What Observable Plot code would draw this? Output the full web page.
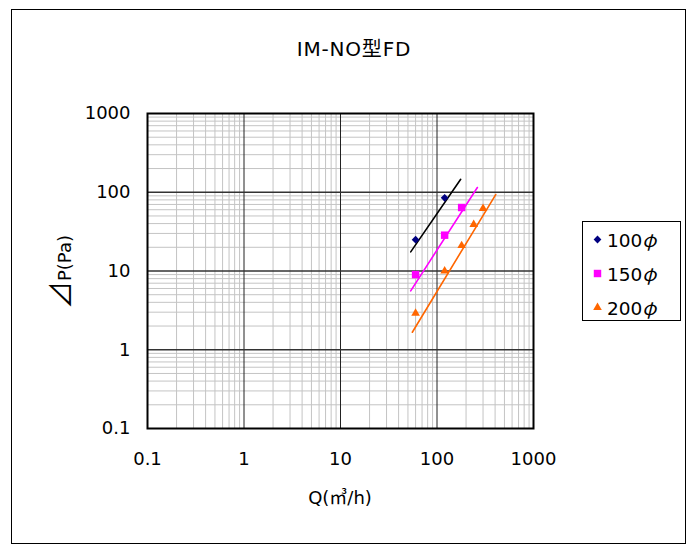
<!DOCTYPE html>
<html>
<head>
<meta charset="utf-8">
<script src="https://cdn.jsdelivr.net/npm/d3@7"></script>
<script src="https://cdn.jsdelivr.net/npm/@observablehq/plot@0.6"></script>
<style>
  html, body { margin: 0; padding: 0; background: #fff; }
  #wrap { position: relative; width: 698px; height: 544px; font-family: "DejaVu Sans", "Noto Sans CJK JP", sans-serif; color: #000; }
  #frame { position: absolute; left: 11px; top: 9px; width: 675px; height: 535px; border: 1px solid #000; box-sizing: border-box; pointer-events: none; }
  .txt { position: absolute; white-space: nowrap; }
  #title { left: 0; width: 708px; top: 33px; text-align: center; font-size: 20px; letter-spacing: 0.8px; }
  #xlabel { left: 0; width: 680px; top: 483px; text-align: center; font-size: 18px; }
  #ylabel { left: 61px; top: 272px; font-size: 18px; line-height: 22px; transform: translate(-50%, -50%) rotate(-90deg); }
  #legend { position: absolute; left: 582px; top: 221px; width: 99px; height: 100px; border: 1px solid #000; box-sizing: border-box; background: #fff; }
  .row { position: absolute; left: 0; height: 24px; display: flex; align-items: center; font-size: 18.5px; }
  .row svg { margin-left: 9px; margin-right: 4px; }
  .cjk { font-family: "Noto Sans CJK JP", sans-serif; }
  .big { font-size: 1.55em; line-height: 1; }
  .phi { font-family: "Noto Sans CJK JP", sans-serif; font-style: italic; }
</style>
</head>
<body>
<div id="wrap">
  <div id="chart"></div>
  <div id="frame"></div>
  <div class="txt" id="title"></div>
  <div class="txt" id="xlabel"></div>
  <div class="txt" id="ylabel"></div>
  <div id="legend"></div>
</div>
<script>
// ---- data ----
const titleText = "IM-NO型FD";
const xLabel = "Q(㎥/h)";
const yLabel = "⊿P(Pa)";

const seriesNames = ["100φ", "150φ", "200φ"];
const seriesColors = ["#000080", "#ff00ff", "#ff6600"];
const seriesSymbols = ["diamond2", "square", "triangle"];

const q100 = [60, 120];
const p100 = [25, 85];
const q150 = [60, 120, 180];
const p150 = [9, 28.5, 64];
const q200 = [60, 120, 180, 240, 300];
const p200 = [2.9, 10, 21, 39, 62];

// trend line end points
const trend100Q = [53.4, 176];
const trend100P = [17.5, 146];
const trend150Q = [53.4, 262];
const trend150P = [5.6, 115];
const trend200Q = [55.5, 406];
const trend200P = [1.67, 93.5];
const trendColors = ["#000000", "#ff00ff", "#ff6600"];

const xTicks = [0.1, 1, 10, 100, 1000];
const xTickLabels = ["0.1", "1", "10", "100", "1000"];
const yTicks = [0.1, 1, 10, 100, 1000];
const yTickLabels = ["0.1", "1", "10", "100", "1000"];

// ---- build ----
const zip = (xs, ys, s) => xs.map((x, i) => ({x, y: ys[i], s}));
const points = [zip(q100, p100, 0), zip(q150, p150, 1), zip(q200, p200, 2)];
const trends = [zip(trend100Q, trend100P, 0), zip(trend150Q, trend150P, 1), zip(trend200Q, trend200P, 2)];

const decades = xTicks.slice(0, -1);
const minorX = decades.flatMap(d => d3.range(2, 10).map(k => d * k));
const minorY = yTicks.slice(0, -1).flatMap(d => d3.range(2, 10).map(k => d * k));
const majorX = xTicks.slice(1, -1);
const majorY = yTicks.slice(1, -1);

const symR = [3.5, 4.2, 3.2];

const marks = [
  Plot.ruleX(minorX, {stroke: "#c4c4c4", strokeWidth: 1}),
  Plot.ruleY(minorY, {stroke: "#c4c4c4", strokeWidth: 1}),
  Plot.ruleX(majorX, {stroke: "#222", strokeWidth: 1}),
  Plot.ruleY(majorY, {stroke: "#333", strokeWidth: 1.4}),
  ...trends.map((t, i) => Plot.line(t, {x: "x", y: "y", stroke: trendColors[i], strokeWidth: 1.6})),
  ...points.map((p, i) => Plot.dot(p, {x: "x", y: "y", symbol: seriesSymbols[i], fill: seriesColors[i], stroke: "none", r: symR[i]})),
  Plot.frame({stroke: "#000", strokeWidth: 2})
];

const chart = Plot.plot({
  width: 698,
  height: 544,
  marginLeft: 147,
  marginRight: 165,
  marginTop: 113,
  marginBottom: 116,
  style: {fontFamily: '"DejaVu Sans", sans-serif', fontSize: "18px", color: "#000", background: "transparent"},
  x: {type: "log", domain: [0.1, 1000], ticks: xTicks, tickFormat: d => xTickLabels[xTicks.indexOf(d)], tickSize: 0, tickPadding: 24, label: null},
  y: {type: "log", domain: [0.1, 1000], ticks: yTicks, tickFormat: d => yTickLabels[yTicks.indexOf(d)], tickSize: 0, tickPadding: 17, label: null},
  marks
});
document.getElementById("chart").appendChild(chart);

document.getElementById("title").textContent = titleText;

// axis titles: wide (CJK) glyphs get the CJK font
function fillText(el, text) {
  for (const ch of text) {
    if (/[⊿㎥]/.test(ch)) {
      const s = document.createElement("span");
      s.className = ch === "⊿" ? "cjk big" : "cjk";
      s.textContent = ch;
      el.appendChild(s);
    } else {
      el.appendChild(document.createTextNode(ch));
    }
  }
}
fillText(document.getElementById("xlabel"), xLabel);
fillText(document.getElementById("ylabel"), yLabel);

// legend
const legend = document.getElementById("legend");
const symbolPaths = {diamond2: d3.symbolDiamond2, square: d3.symbolSquare, triangle: d3.symbolTriangle};
seriesNames.forEach((name, i) => {
  const row = document.createElement("div");
  row.className = "row";
  row.style.top = (5 + i * 34) + "px";
  const r = symR[i];
  const path = d3.symbol(symbolPaths[seriesSymbols[i]], Math.PI * r * r)();
  row.innerHTML = `<svg width="11" height="11" viewBox="-5.5 -5.5 11 11"><path d="${path}" fill="${seriesColors[i]}"/></svg>`;
  const label = document.createElement("span");
  for (const ch of name) {
    if (ch === "φ") {
      const s = document.createElement("span");
      s.className = "phi";
      s.textContent = ch;
      label.appendChild(s);
    } else {
      label.appendChild(document.createTextNode(ch));
    }
  }
  row.appendChild(label);
  legend.appendChild(row);
});
</script>
</body>
</html>
